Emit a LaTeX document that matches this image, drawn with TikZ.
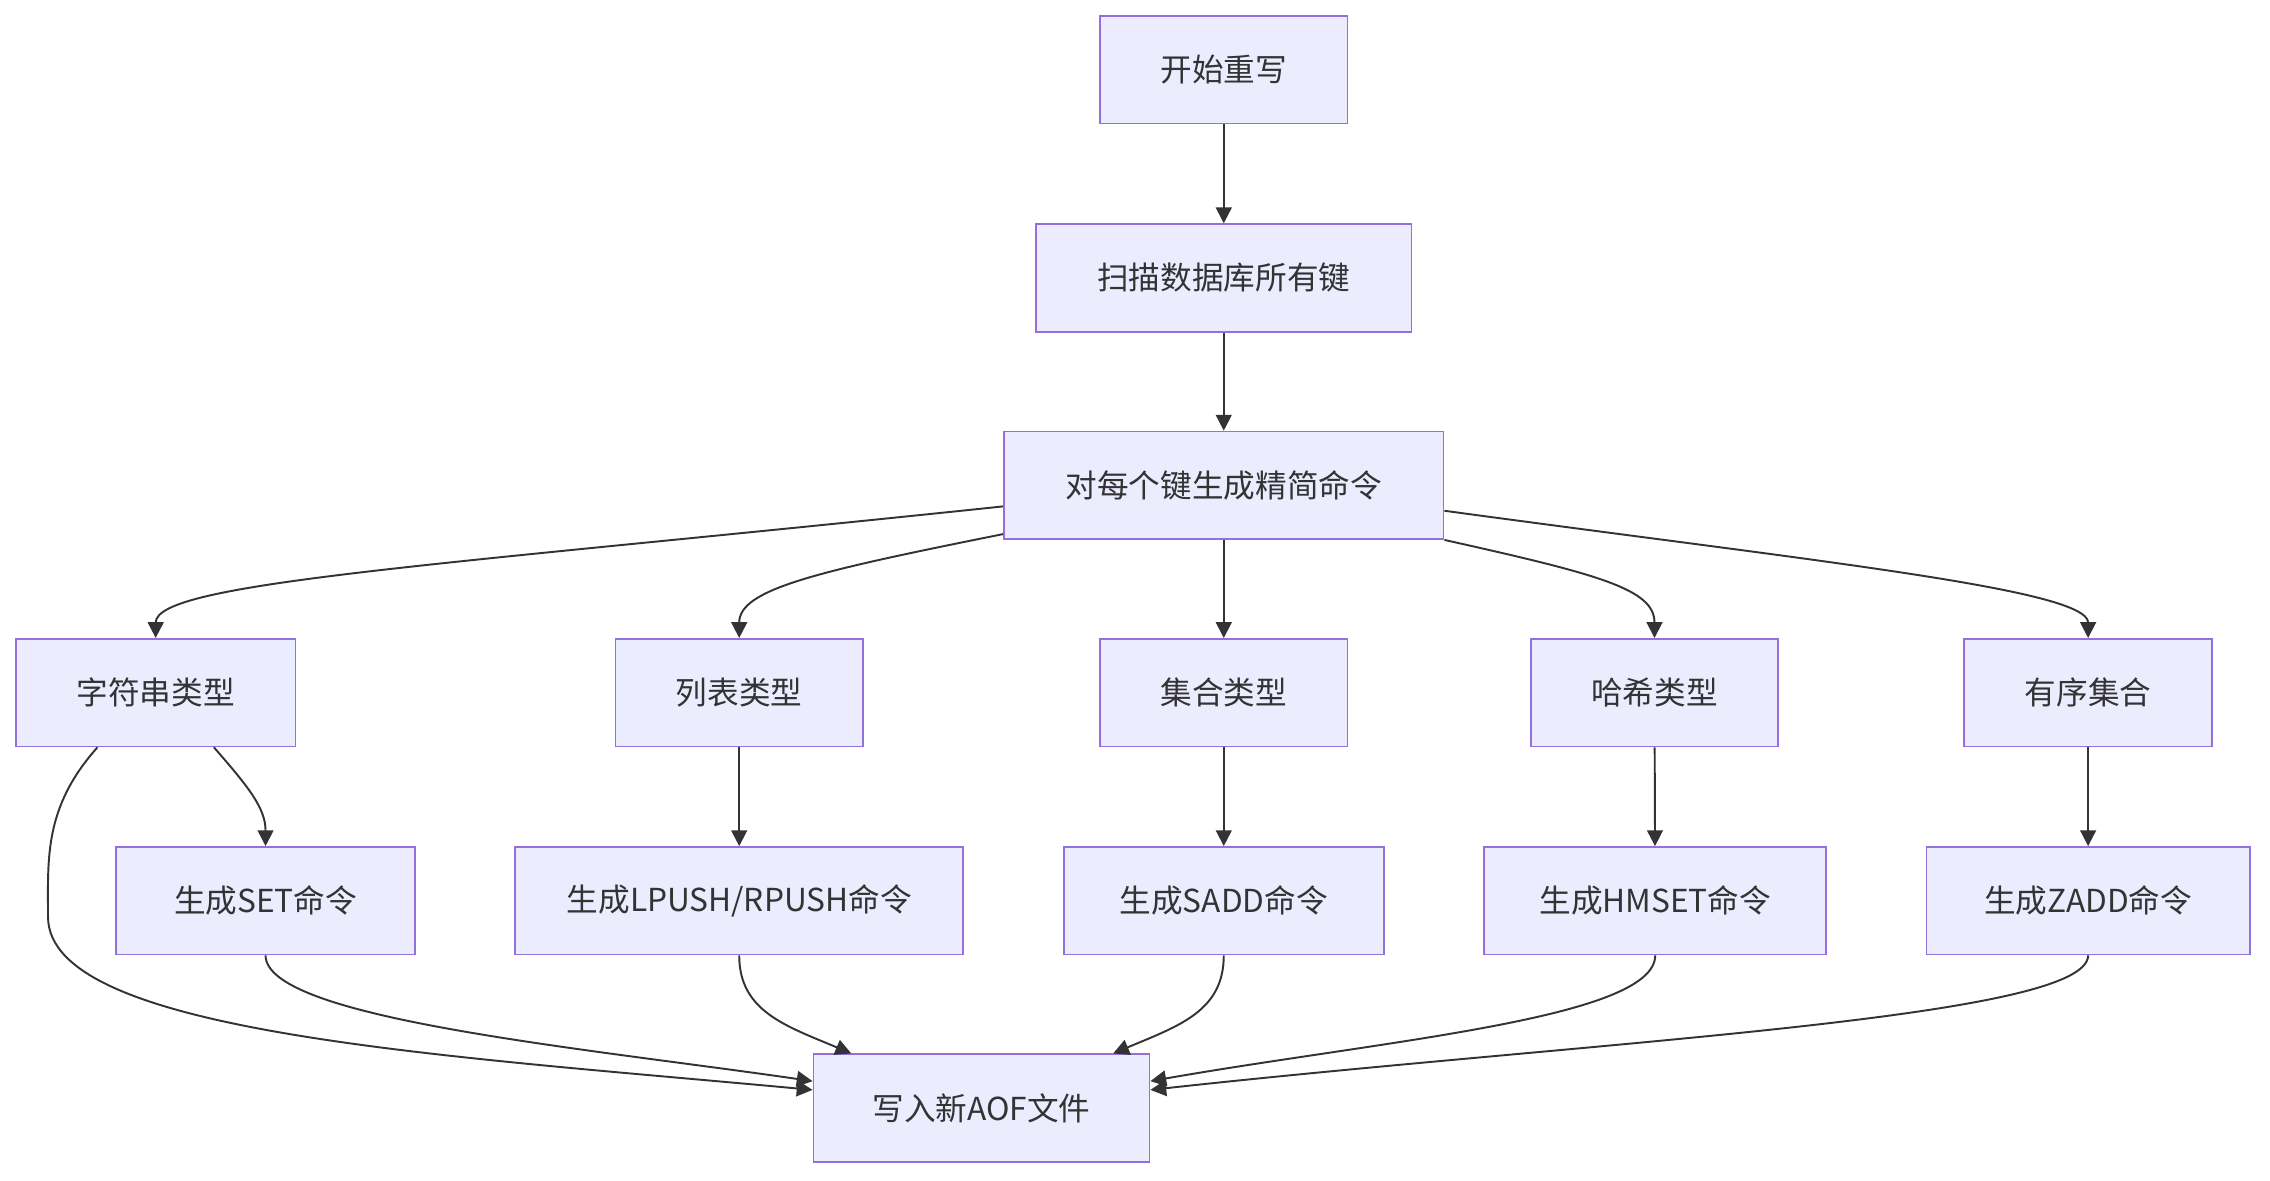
\documentclass[tikz,border=0pt]{standalone}
\usepackage{fontspec}
\setmainfont{Noto Sans CJK SC}
\usetikzlibrary{arrows.meta,calc}
\definecolor{boxfill}{HTML}{ECECFF}
\definecolor{boxline}{HTML}{9370DB}
\definecolor{lnk}{HTML}{333333}

\begin{document}
\begin{tikzpicture}[x=0.0291cm, y=-0.0291cm,
  box/.style={draw=boxline, fill=boxfill, line width=1pt, minimum height=2.15cm,
    inner sep=0pt, text=lnk, font=\fontsize{18pt}{22pt}\selectfont},
  link/.style={draw=lnk, line width=1.1pt, -{Triangle[length=9pt,width=9pt]}}]
  \useasboundingbox (0,0) rectangle (1560,811);
  % top chain
  \node [box, minimum width=4.95cm] (start) at (841,48) {开始重写};
  \node [box, minimum width=7.51cm] (scan) at (841,191) {扫描数据库所有键};
  \node [box, minimum width=8.79cm] (each) at (841,333.5) {对每个键生成精简命令};
  % types
  \node [box, minimum width=5.59cm] (str) at (107,476) {字符串类型};
  \node [box, minimum width=4.95cm] (lst) at (508,476) {列表类型};
  \node [box, minimum width=4.95cm] (set) at (841,476) {集合类型};
  \node [box, minimum width=4.95cm] (hsh) at (1137,476) {哈希类型};
  \node [box, minimum width=4.95cm] (zst) at (1435,476) {有序集合};
  % commands
  \node [box, minimum width=5.97cm] (cset) at (182.5,619) {生成SET命令};
  \node [box, minimum width=8.96cm] (cpush) at (508,619) {生成LPUSH/RPUSH命令};
  \node [box, minimum width=6.40cm] (csadd) at (841,619) {生成SADD命令};
  \node [box, minimum width=6.84cm] (chset) at (1137.5,619) {生成HMSET命令};
  \node [box, minimum width=6.46cm] (czadd) at (1435,619) {生成ZADD命令};
  \node [box, minimum width=6.72cm] (aof) at (674.5,761.5) {写入新AOF文件};

  \draw [link] (start) -- (scan);
  \draw [link] (scan) -- (each);
  \draw [link] (each) -- (set);
  \draw [link] ($(each.west)+(0,14.5)$) .. controls (300,389) and (107,400) .. (str.north);
  \draw [link] ($(each.south west)+(0,-4)$) .. controls (560,393) and (508,405) .. (lst.north);
  \draw [link] (each.south east) .. controls (1100,395) and (1137,405) .. (hsh.north);
  \draw [link] ($(each.east)+(0,17.5)$) .. controls (1250,386) and (1435,405) .. (zst.north);
  \draw [link] ($(str.south)+(40,0)$) .. controls (170,540) and (182.5,555) .. (cset.north);
  \draw [link] (lst) -- (cpush);
  \draw [link] (set) -- (csadd);
  \draw [link] (hsh) -- (chset);
  \draw [link] (zst) -- (czadd);
  % into the file
  \draw [link] ($(str.south)+(-40,0)$) .. controls (30,555) and (33,590) .. (33,630)
    .. controls (33,710) and (300,725) .. ($(aof.west)+(0,-12.5)$);
  \draw [link] (cset.south) .. controls (182.5,700) and (400,720) .. ($(aof.west)+(0,-18.5)$);
  \draw [link] (cpush.south) .. controls (508,695) and (540,705) .. ($(aof.north)+(-89.5,0)$);
  \draw [link] (csadd.south) .. controls (841,695) and (810,705) .. ($(aof.north)+(90.5,0)$);
  \draw [link] (chset.south) .. controls (1137.5,700) and (950,715) .. ($(aof.east)+(0,-18.5)$);
  \draw [link] (czadd.south) .. controls (1435,700) and (1100,715) .. ($(aof.east)+(0,-12.5)$);
\end{tikzpicture}
\end{document}
